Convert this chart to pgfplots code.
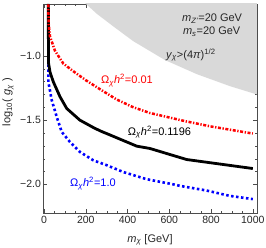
\documentclass[border=0pt]{standalone}
\usepackage{fontspec}
\setmainfont{Liberation Sans}
\usepackage{pgfplots}
\pgfplotsset{compat=1.18}
\newcommand{\sub}[1]{\textsubscript{#1}}
\newcommand{\sps}[1]{\textsuperscript{#1}}
\begin{document}
\begin{tikzpicture}
\begin{axis}[
  scale only axis, width=214pt, height=209pt,
  xmin=-5, xmax=1020, ymin=-2.223, ymax=-0.597,
  xtick={0,200,400,600,800,1000},
  xticklabels={0,200,400,600,800,1000},
  ytick={-2,-1.5,-1},
  yticklabels={−2.0,−1.5,−1.0},
  minor x tick num=3, minor y tick num=4,
  tick align=inside, major tick length=4pt, minor tick length=2pt,
  axis line style={black!70}, tick style={black!70},
  ticklabel style={font=\fontsize{10.5}{12}\selectfont, text=black!85},
  yticklabel style={xshift=1.5pt},
  xlabel={\textit{m}\sub{\textit{χ}} [GeV]},
  ylabel={log\sub{10}( \textit{g}\sub{\textit{χ}} )},
  label style={font=\fontsize{11}{13}\selectfont, text=black!85},
  xlabel style={at={(axis description cs:0.5,-0.129)}, anchor=center},
  ylabel style={at={(axis description cs:-0.163,0.53)}, anchor=center},
  clip=true,
]
% excluded region y_chi > sqrt(4 pi)
\addplot[fill=black!15, draw=none] coordinates {
 (191,-0.566) (201,-0.597) (254,-0.675) (330,-0.769) (426,-0.885)
 (579,-1.033) (732,-1.143) (890,-1.236) (1000,-1.291) (1030,-1.305)
 (1030,-0.5) (191,-0.5)} -- cycle;
% Omega h^2 = 1.0 (blue dotted)
\addplot[blue, line width=2.6pt, dash pattern=on 2.5pt off 2.5pt] coordinates {
 (20.6,-0.60) (20.6,-1.00) (20.6,-1.203) (36.8,-1.345) (60.8,-1.475)
 (84.7,-1.592) (124,-1.670) (172,-1.748) (236,-1.813) (300,-1.851)
 (379,-1.904) (491,-1.960) (619,-2.000) (651,-2.012) (778,-2.048)
 (890,-2.090) (1000,-2.115)};
% Omega h^2 = 0.1196 (black solid)
\addplot[black, line width=2.8pt] coordinates {
 (20.6,-0.597) (21.0,-1.000) (21.5,-1.057) (28.7,-1.127) (44.5,-1.203)
 (76.6,-1.319) (108.6,-1.410) (172,-1.501) (236,-1.558) (270,-1.585)
 (300,-1.605) (444,-1.703) (507,-1.721) (683,-1.807) (1000,-1.877)};
% Omega h^2 = 0.01 (red dash-dot)
\addplot[red, line width=2.5pt, dash pattern=on 3pt off 1.6pt on 1.3pt off 1.6pt] coordinates {
 (20.6,-0.60) (22,-0.75) (28.7,-0.85) (52,-0.96) (92,-1.06) (140,-1.12)
 (200,-1.19) (268,-1.26) (348,-1.34) (427,-1.40) (507,-1.445)
 (680,-1.51) (800,-1.55) (1000,-1.605)};
\node[font=\fontsize{11}{13}\selectfont, text=black!85] at (axis cs:805,-0.709) {\textit{m}\sub{\textit{Z'}}=20 GeV};
\node[font=\fontsize{11}{13}\selectfont, text=black!85] at (axis cs:803,-0.811) {\textit{m}\sub{\textit{s}}=20 GeV};
\node[font=\fontsize{11}{13}\selectfont, text=black!85] at (axis cs:703,-0.995) {\textit{y}\sub{\textit{χ}}>(4\textit{π})\sps{1/2}};
\node[font=\fontsize{11}{13}\selectfont, text=red] at (axis cs:397,-1.193) {Ω\sub{\textit{χ}}\textit{h}\sps{2}=0.01};
\node[font=\fontsize{11}{13}\selectfont, text=black] at (axis cs:553,-1.594) {Ω\sub{\textit{χ}}\textit{h}\sps{2}=0.1196};
\node[font=\fontsize{11}{13}\selectfont, text=blue] at (axis cs:234,-1.992) {Ω\sub{\textit{χ}}\textit{h}\sps{2}=1.0};
\end{axis}
\pgfresetboundingbox
\path[use as bounding box] ([xshift=-43pt,yshift=-35pt]current axis.south west) rectangle ([xshift=9pt,yshift=4pt]current axis.north east);
\end{tikzpicture}
\end{document}
